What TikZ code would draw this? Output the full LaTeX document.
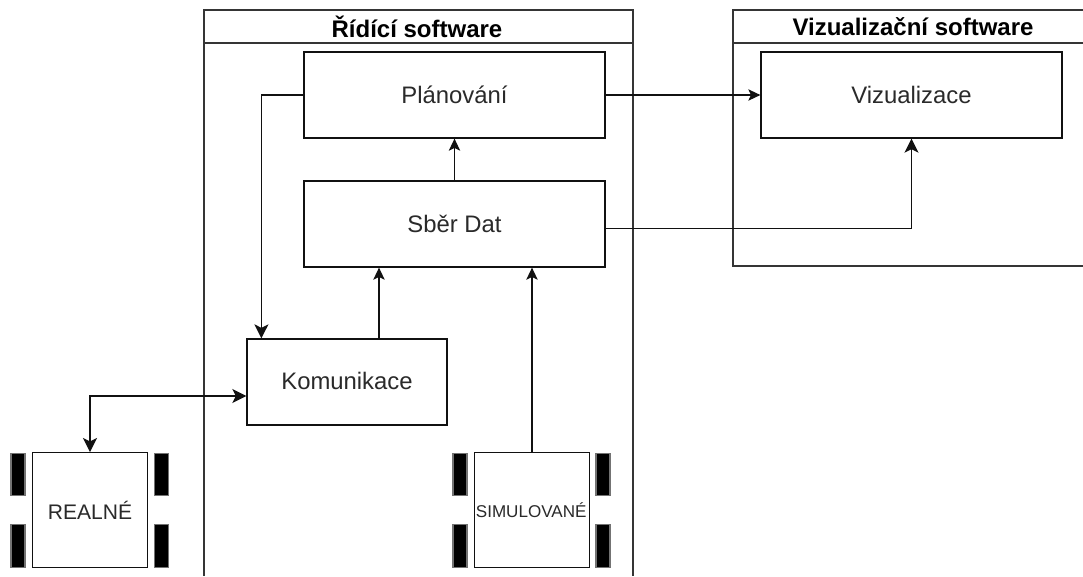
\documentclass[tikz,border=0pt]{standalone}
\usepackage{fontspec}
\setmainfont{Liberation Sans}
\usetikzlibrary{arrows.meta}
\definecolor{ink}{HTML}{111111}
\definecolor{txt}{HTML}{2A2A2A}
\tikzset{
  box/.style={draw=ink,line width=0.95pt,fill=white,rectangle,inner sep=0pt,text=txt,font=\fontsize{17.9}{20}\selectfont,minimum width=225.75pt,minimum height=64.5pt},
  kombox/.style={box,minimum width=150pt},
  robot/.style={box,minimum width=86pt,minimum height=86pt},
  wheel/.style={draw=black!55,line width=0.8pt,fill=black,rectangle,inner sep=0pt,minimum width=10.5pt,minimum height=32pt},
  lane/.style={draw=ink!85,line width=1.3pt},
  title/.style={inner sep=0pt,font=\bfseries\fontsize{18}{20}\selectfont,text=black},
  arr/.style={draw=ink,line width=1pt,-{Stealth[length=9pt,width=8.5pt,inset=2pt]}},
  bigarr/.style={draw=ink,line width=1.2pt,-{Stealth[length=10.5pt,width=10.5pt,inset=2.6pt]}},
  biarr/.style={draw=ink,line width=1.2pt,{Stealth[length=10.5pt,width=10.5pt,inset=2.6pt]}-{Stealth[length=10.5pt,width=10.5pt,inset=2.6pt]}}
}
\begin{document}
\begin{tikzpicture}[x=0.75pt,y=-0.75pt]
\useasboundingbox (0,0) rectangle (1083,576);
\fill[white] (0,0) rectangle (1083,576);
% containers
\draw[lane] (204,576) -- (204,10) -- (633,10) -- (633,576);
\draw[lane] (204,43) -- (633,43);
\node[title] (t1) at (417,27) {Řídící software};
\draw[lane] (1083,10) -- (733,10) -- (733,266) -- (1083,266);
\draw[lane] (733,43) -- (1083,43);
\node[title] (t2) at (913,27) {Vizualizační software};
% blocks
\node[box] (plan) at (454.5,95) {Plánování};
\node[box] (sber) at (454.5,224) {Sběr Dat};
\node[box] (viz) at (911.5,95) {Vizualizace};
\node[kombox] (kom) at (347,382) {\raisebox{1.5pt}{Komunikace}};
\node[robot,font=\fontsize{15.8}{18}\selectfont] (real) at (90,510) {REALNÉ};
\node[robot,font=\fontsize{12.8}{14}\selectfont] (sim) at (532,510) {\hspace{-1.2pt}SIMULOVANÉ};
% wheels
\node[wheel] (w1) at (18,474.5) {};
\node[wheel] (w2) at (18,546) {};
\node[wheel] (w3) at (161.5,474.5) {};
\node[wheel] (w4) at (161.5,546) {};
\node[wheel] (w5) at (460,474.5) {};
\node[wheel] (w6) at (460,546) {};
\node[wheel] (w7) at (603,474.5) {};
\node[wheel] (w8) at (603,546) {};
% connectors
\draw[arr] (sber.north) -- (plan.south);
\draw[arr] (plan.east) -- (viz.west);
\draw[bigarr] ([yshift=-3.4pt]sber.east) -| (viz.south);
\draw[bigarr] (plan.west) -| ([xshift=-64.2pt]kom.north);
\draw[arr] ([xshift=24pt]kom.north) -- ([xshift=24pt]kom.north |- sber.south);
\draw[arr] (sim.north) -- (sim.north |- sber.south);
\draw[biarr] (real.north) |- ([yshift=-10.5pt]kom.west);
\end{tikzpicture}
\end{document}
